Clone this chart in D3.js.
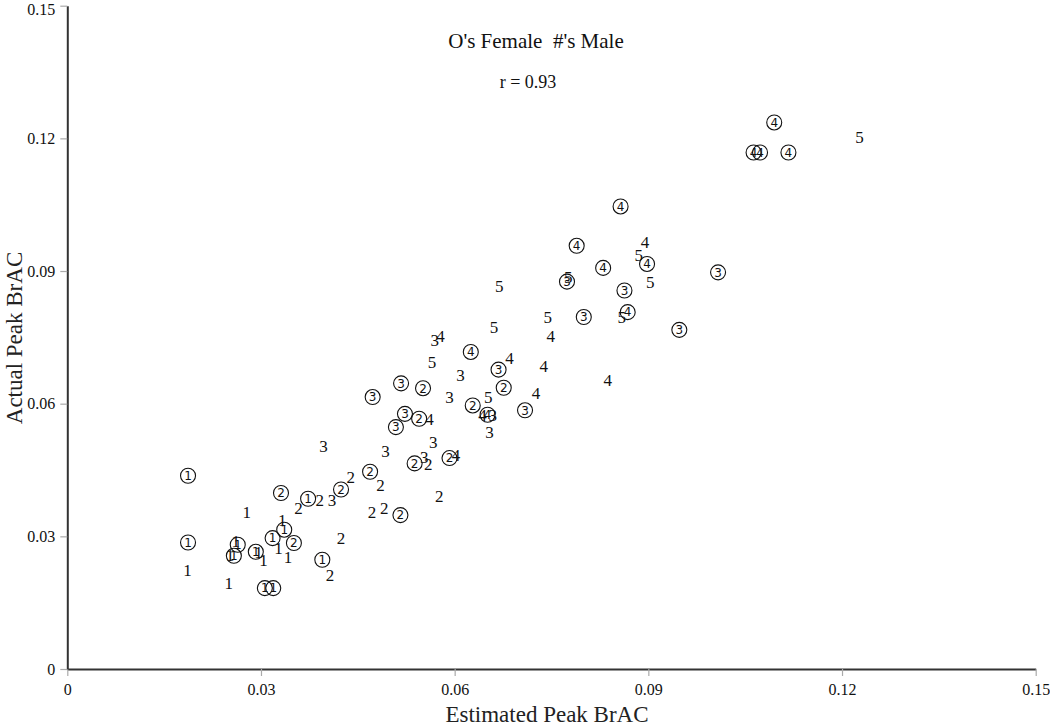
<!DOCTYPE html>
<html><head><meta charset="utf-8">
<script src="https://cdn.jsdelivr.net/npm/d3@7"></script>
<style>body{margin:0;background:#fff}svg{display:block}</style>
</head><body>
<script>
// Female subjects (circled digits): [estimated, actual, label]
const femaleX = [0.0187,0.0187,0.0264,0.0258,0.0292,0.0306,0.0319,0.0318,0.0336,0.0351,0.0331,0.0373,0.0424,0.0469,0.0395,0.0516,0.0538,0.0592,0.0473,0.0517,0.0551,0.0523,0.0545,0.0509,0.0628,0.0651,0.0668,0.0676,0.0625,0.0709,0.0774,0.0800,0.0789,0.0830,0.0857,0.0863,0.0868,0.0898,0.0948,0.1008,0.1095,0.1063,0.1073,0.1117];
const femaleY = [0.0437,0.0286,0.0281,0.0256,0.0265,0.0183,0.0183,0.0296,0.0315,0.0285,0.0398,0.0385,0.0406,0.0446,0.0247,0.0348,0.0465,0.0477,0.0615,0.0646,0.0635,0.0577,0.0566,0.0547,0.0596,0.0575,0.0677,0.0636,0.0717,0.0585,0.0876,0.0796,0.0957,0.0907,0.1046,0.0856,0.0807,0.0916,0.0767,0.0897,0.1236,0.1168,0.1168,0.1168];
const femaleLabel = ["1","1","1","1","1","1","1","1","1","2","2","1","2","2","1","2","2","2","3","3","2","3","2","3","2","4","3","2","4","3","3","3","4","4","4","3","4","4","3","3","4","4","4","4"];
// Male subjects (plain digits)
const maleX = [0.0186,0.0250,0.0278,0.0261,0.0252,0.0296,0.0304,0.0333,0.0327,0.0342,0.0358,0.0391,0.0410,0.0439,0.0485,0.0472,0.0491,0.0576,0.0424,0.0407,0.0397,0.0493,0.0553,0.0559,0.0602,0.0567,0.0561,0.0592,0.0609,0.0565,0.0569,0.0578,0.0661,0.0669,0.0685,0.0652,0.0643,0.0659,0.0654,0.0726,0.0738,0.0749,0.0744,0.0837,0.0859,0.0776,0.0885,0.0895,0.0903,0.1227];
const maleY = [0.0224,0.0194,0.0355,0.0289,0.0257,0.0265,0.0246,0.0336,0.0273,0.0254,0.0364,0.0382,0.0382,0.0434,0.0415,0.0356,0.0364,0.0392,0.0296,0.0213,0.0505,0.0493,0.0480,0.0464,0.0484,0.0514,0.0565,0.0614,0.0665,0.0694,0.0744,0.0753,0.0774,0.0865,0.0704,0.0615,0.0575,0.0574,0.0535,0.0624,0.0684,0.0753,0.0795,0.0654,0.0795,0.0887,0.0936,0.0965,0.0874,0.1203];
const maleLabel = ["1","1","1","1","1","1","1","1","1","1","2","2","3","2","2","2","2","2","2","2","3","3","3","2","4","3","4","3","3","5","3","4","5","5","4","5","4","3","3","4","4","4","5","4","5","5","5","4","5","5"];
const xTicks = [0,0.03,0.06,0.09,0.12,0.15];
const yTicks = [0,0.03,0.06,0.09,0.12,0.15];
const tickLabels = ["0","0.03","0.06","0.09","0.12","0.15"];

const W = 1050, H = 727;
const m = {left: 67.3, right: 14.3, top: 5.7, bottom: 58};
const svg = d3.select("body").append("svg").attr("width", W).attr("height", H);
const x = d3.scaleLinear().domain([0, 0.15]).range([m.left, W - m.right]);
const y = d3.scaleLinear().domain([0, 0.15]).range([H - m.bottom, m.top]);
const serif = "'Liberation Serif', 'Times New Roman', serif";

const fmt = d => tickLabels[xTicks.indexOf(d)];
const gx = svg.append("g").attr("transform", `translate(0,${y(0)})`)
  .call(d3.axisBottom(x).tickValues(xTicks).tickFormat(fmt).tickSize(7).tickSizeOuter(0).tickPadding(8));
const gy = svg.append("g").attr("transform", `translate(${x(0)},0)`)
  .call(d3.axisLeft(y).tickValues(yTicks).tickFormat(fmt).tickSize(7).tickSizeOuter(0).tickPadding(5));
[gx, gy].forEach(g => {
  g.attr("font-family", null);
  g.select(".domain").attr("stroke", "#333").attr("stroke-width", 2);
  g.selectAll(".tick line").attr("stroke", "#aaa").attr("stroke-width", 1.2);
  g.selectAll(".tick text").style("font-family", serif).style("font-size", "16px").attr("fill", "#111");
});
gy.selectAll(".tick text").filter(d => d === 0.15).attr("dy", "0.55em");

// labels
svg.append("text").attr("x", 547).attr("y", 722).attr("text-anchor", "middle")
  .style("font-family", serif).style("font-size", "23px").attr("fill", "#222").text("Estimated Peak BrAC");
svg.append("text").attr("transform", "translate(22,338) rotate(-90)").attr("text-anchor", "middle")
  .style("font-family", serif).style("font-size", "23px").attr("fill", "#222").text("Actual Peak BrAC");
svg.append("text").attr("x", 536).attr("y", 48).attr("text-anchor", "middle")
  .style("white-space", "pre")
  .style("font-family", serif).style("font-size", "21px").attr("fill", "#111").text("O's Female  #'s Male");
svg.append("text").attr("x", 528).attr("y", 88).attr("text-anchor", "middle")
  .style("font-family", serif).style("font-size", "18px").attr("fill", "#111").text("r = 0.93");

// male points
svg.append("g").selectAll("text").data(maleX.map((v, i) => ({x: v, y: maleY[i], l: maleLabel[i]})))
  .join("text").attr("x", d => x(d.x)).attr("y", d => y(d.y)).attr("dy", "0.35em")
  .attr("text-anchor", "middle").style("font-family", serif).style("font-size", "17px").attr("fill", "#111")
  .text(d => d.l);

// female points
const fg = svg.append("g").selectAll("g").data(femaleX.map((v, i) => ({x: v, y: femaleY[i], l: femaleLabel[i]})))
  .join("g").attr("transform", d => `translate(${x(d.x)},${y(d.y)})`);
fg.append("circle").attr("r", 7.5).attr("fill", "none").attr("stroke", "#111").attr("stroke-width", 1.1);
fg.append("text").attr("dy", "0.36em").attr("text-anchor", "middle")
  .style("font-family", "'DejaVu Sans', 'Liberation Sans', sans-serif").style("font-size", "12px").attr("fill", "#111")
  .text(d => d.l);
</script>
</body></html>
